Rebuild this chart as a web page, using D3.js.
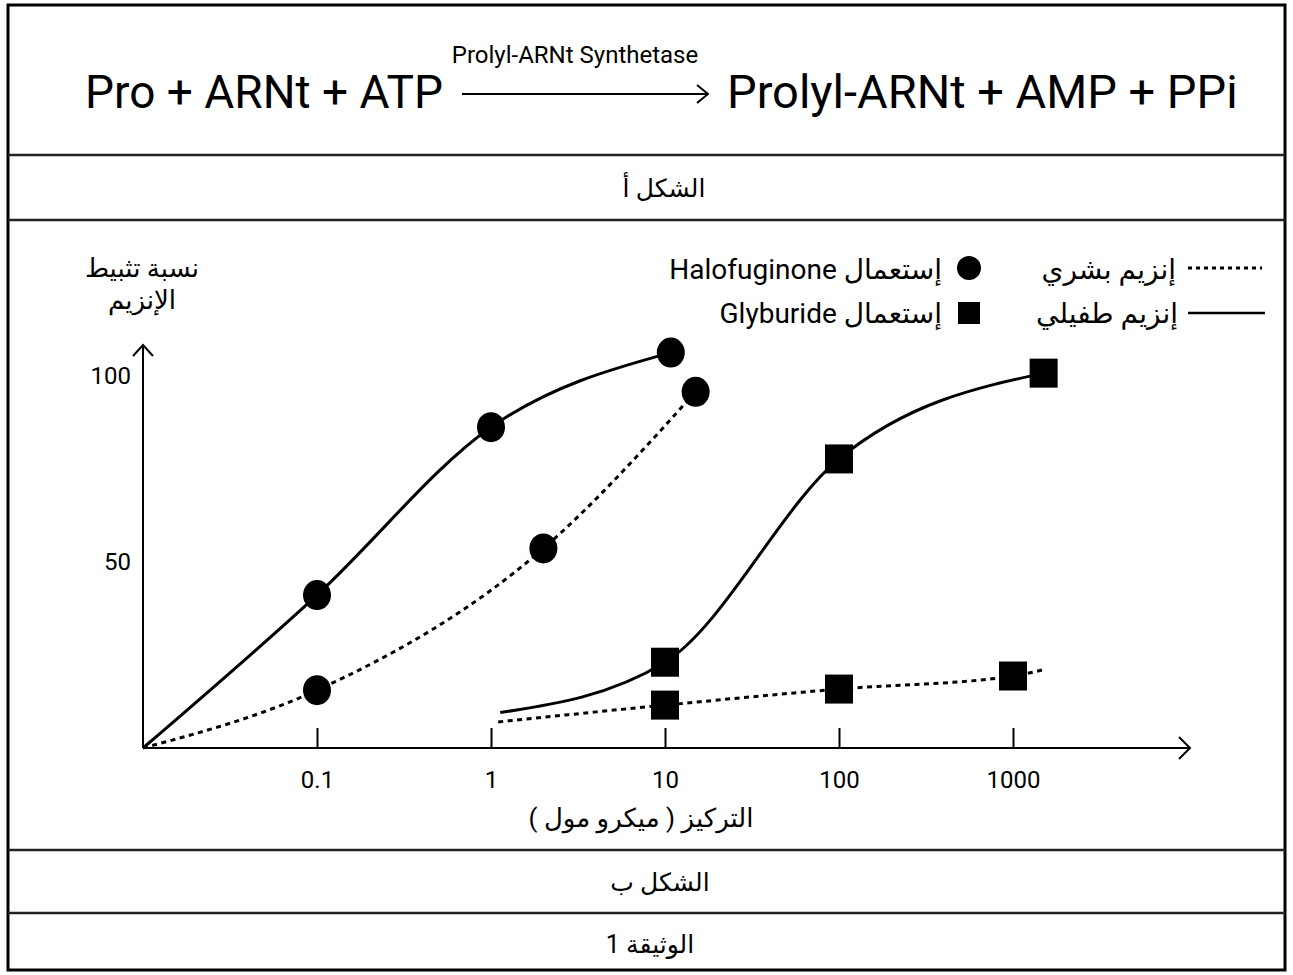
<!DOCTYPE html>
<html>
<head>
<meta charset="utf-8">
<title>Prolyl-ARNt</title>
<script src="https://d3js.org/d3.v7.min.js"></script>
<style>
  body { margin: 0; background: #fff; }
  svg text { font-family: Roboto, 'DejaVu Sans', sans-serif; fill: #000; }
  svg text.ar { direction: rtl; unicode-bidi: embed; }
</style>
</head>
<body>
<svg id="doc" width="1293" height="975"></svg>
<script>
// ---- data ----
// halofuginone, human enzyme (dotted, circles)
const haloHumanX = [0.01, 0.1, 2, 15];
const haloHumanY = [0, 15.5, 53.5, 95.5];
const haloHumanMark = [false, true, true, true];
// halofuginone, parasite enzyme (solid, circles)
const haloParaX = [0.01, 0.1, 1, 10.8];
const haloParaY = [0, 41, 86, 106];
const haloParaMark = [false, true, true, true];
// glyburide, parasite enzyme (solid, squares)
const glyParaX = [1.13, 10, 100, 1500];
const glyParaY = [9.5, 23, 77.5, 100.5];
const glyParaMark = [false, true, true, true];
// glyburide, human enzyme (dotted, squares)
const glyHumanX = [1.1, 10, 100, 1000, 1500];
const glyHumanY = [7, 11.5, 15.8, 19.3, 21];
const glyHumanMark = [false, true, true, true, false];

const xTicks = [0.1, 1, 10, 100, 1000];
const yTickLabels = [100, 50];

const svg = d3.select("svg#doc");

// ---- frame ----
svg.append("rect").attr("x", 8).attr("y", 5).attr("width", 1277).attr("height", 965)
   .attr("fill", "none").attr("stroke", "#000").attr("stroke-width", 3);
[155, 220, 850, 913].forEach(y => {
    svg.append("line").attr("x1", 8).attr("x2", 1285).attr("y1", y).attr("y2", y)
       .attr("stroke", "#222").attr("stroke-width", 2.5);
});

// ---- reaction ----
svg.append("text").attr("x", 443).attr("y", 108).attr("text-anchor", "end")
   .attr("font-size", 46).text("Pro + ARNt + ATP");
svg.append("text").attr("x", 727).attr("y", 108)
   .attr("font-size", 47).text("Prolyl-ARNt + AMP + PPi");
svg.append("text").attr("x", 575).attr("y", 63).attr("text-anchor", "middle")
   .attr("font-size", 24).text("Prolyl-ARNt Synthetase");
svg.append("line").attr("x1", 462).attr("x2", 707).attr("y1", 94).attr("y2", 94)
   .attr("stroke", "#000").attr("stroke-width", 2);
svg.append("path").attr("d", "M697,85 L708,94 L697,103").attr("fill", "none")
   .attr("stroke", "#000").attr("stroke-width", 2);

// ---- captions ----
svg.append("text").attr("class", "ar").attr("x", 664).attr("y", 197).attr("text-anchor", "middle")
   .attr("font-size", 25).text("الشكل أ");
svg.append("text").attr("class", "ar").attr("x", 660).attr("y", 891).attr("text-anchor", "middle")
   .attr("font-size", 25).text("الشكل ب");
svg.append("text").attr("class", "ar").attr("x", 650).attr("y", 953).attr("text-anchor", "middle")
   .attr("font-size", 25).text("الوثيقة 1");

// ---- scales ----
const x = d3.scaleLog().domain([0.01, 10000]).range([143, 1187]);
const y = d3.scaleLinear().domain([0, 100]).range([748, 375]);

// ---- axes ----
const g = svg.append("g");
g.append("line").attr("x1", x(0.01)).attr("x2", 1190).attr("y1", y(0)).attr("y2", y(0))
  .attr("stroke", "#000").attr("stroke-width", 2);
g.append("path").attr("d", `M1179,${y(0) - 11} L1190,${y(0)} L1179,${y(0) + 11}`)
  .attr("fill", "none").attr("stroke", "#000").attr("stroke-width", 2);
g.append("line").attr("x1", x(0.01)).attr("x2", x(0.01)).attr("y1", y(0)).attr("y2", 345)
  .attr("stroke", "#000").attr("stroke-width", 2);
g.append("path").attr("d", `M${x(0.01) - 10},356 L${x(0.01)},345 L${x(0.01) + 10},356`)
  .attr("fill", "none").attr("stroke", "#000").attr("stroke-width", 2);

const xAxis = d3.axisBottom(x).tickValues(xTicks).tickFormat(d => String(d))
  .tickSizeInner(-20).tickSizeOuter(0).tickPadding(23);
const xg = svg.append("g").attr("transform", `translate(0,${y(0)})`).call(xAxis);
xg.select(".domain").remove();
xg.selectAll(".tick line").attr("stroke", "#000").attr("stroke-width", 2);
xg.selectAll(".tick text").attr("font-size", 24).attr("font-family", null);

const yg = svg.append("g");
yg.selectAll("text").data(yTickLabels).join("text")
  .attr("x", 131).attr("y", d => y(d)).attr("dy", "0.36em").attr("text-anchor", "end")
  .attr("font-size", 24).text(d => d);

svg.append("text").attr("class", "ar").attr("x", 142).attr("y", 277).attr("text-anchor", "middle")
   .attr("font-size", 26).text("نسبة تثبيط");
svg.append("text").attr("class", "ar").attr("x", 142).attr("y", 309).attr("text-anchor", "middle")
   .attr("font-size", 26).text("الإنزيم");
svg.append("text").attr("class", "ar").attr("x", 641).attr("y", 827).attr("text-anchor", "middle")
   .attr("font-size", 26).text("التركيز ( ميكرو مول )");

// ---- curves and markers ----
const series = [
  { xs: haloHumanX, ys: haloHumanY, mark: haloHumanMark, dotted: true, shape: "circle" },
  { xs: haloParaX, ys: haloParaY, mark: haloParaMark, dotted: false, shape: "circle" },
  { xs: glyParaX, ys: glyParaY, mark: glyParaMark, dotted: false, shape: "square" },
  { xs: glyHumanX, ys: glyHumanY, mark: glyHumanMark, dotted: true, shape: "square" }
];
const line = d3.line().x(d => x(d[0])).y(d => y(d[1])).curve(d3.curveMonotoneX);

series.forEach(s => {
  const pts = s.xs.map((v, i) => [v, s.ys[i], s.mark[i]]);
  svg.append("path").attr("d", line(pts)).attr("fill", "none")
     .attr("stroke", "#000").attr("stroke-width", 3)
     .attr("stroke-dasharray", s.dotted ? "5,4.5" : null);
  const marks = pts.filter(p => p[2]);
  if (s.shape === "circle") {
    svg.selectAll(null).data(marks).join("ellipse")
       .attr("cx", d => x(d[0])).attr("cy", d => y(d[1])).attr("rx", 14).attr("ry", 15).attr("fill", "#000");
  } else {
    svg.selectAll(null).data(marks).join("rect")
       .attr("x", d => x(d[0]) - 14).attr("y", d => y(d[1]) - 14.5)
       .attr("width", 28).attr("height", 29).attr("fill", "#000");
  }
});

// ---- legend ----
const lg = svg.append("g");
lg.append("line").attr("x1", 1188).attr("x2", 1262).attr("y1", 268).attr("y2", 268)
  .attr("stroke", "#000").attr("stroke-width", 3).attr("stroke-dasharray", "4,4");
lg.append("line").attr("x1", 1188).attr("x2", 1265).attr("y1", 313).attr("y2", 313)
  .attr("stroke", "#000").attr("stroke-width", 2.5);
lg.append("text").attr("class", "ar").attr("x", 1176).attr("y", 279).attr("text-anchor", "start")
  .attr("font-size", 28).text("إنزيم بشري");
lg.append("text").attr("class", "ar").attr("x", 1178).attr("y", 323).attr("text-anchor", "start")
  .attr("font-size", 28).text("إنزيم طفيلي");
lg.append("circle").attr("cx", 969).attr("cy", 268).attr("r", 12).attr("fill", "#000");
lg.append("rect").attr("x", 958).attr("y", 302).attr("width", 22).attr("height", 22).attr("fill", "#000");
lg.append("text").attr("class", "ar").attr("x", 942).attr("y", 279).attr("text-anchor", "start")
  .attr("font-size", 28).text("إستعمال Halofuginone");
lg.append("text").attr("class", "ar").attr("x", 942).attr("y", 323).attr("text-anchor", "start")
  .attr("font-size", 28).text("إستعمال Glyburide");
</script>
</body>
</html>
